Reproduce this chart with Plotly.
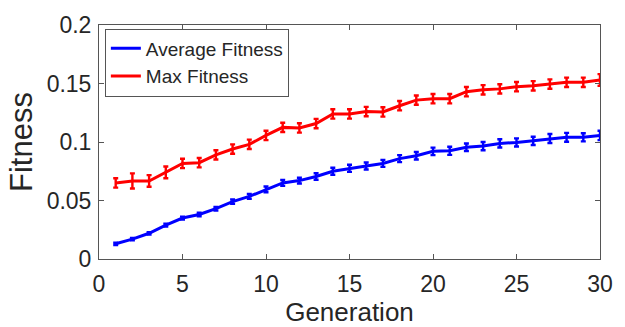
import plotly.graph_objects as go

generation = list(range(1, 31))
avg_fitness = [0.013, 0.017, 0.022, 0.029, 0.035, 0.038, 0.043, 0.049, 0.0535, 0.0595,
               0.065, 0.067, 0.0705, 0.075, 0.0775, 0.0795, 0.0817, 0.0858, 0.0883, 0.092,
               0.0925, 0.0955, 0.0965, 0.0988, 0.0996, 0.101, 0.103, 0.104, 0.104, 0.1056]
avg_err = [0.001, 0.001, 0.001, 0.0012, 0.0012, 0.0015, 0.0015, 0.0018, 0.002, 0.0025,
           0.0025, 0.0025, 0.0028, 0.003, 0.003, 0.003, 0.003, 0.003, 0.0032, 0.0032,
           0.0035, 0.0032, 0.0035, 0.0035, 0.0035, 0.0035, 0.0038, 0.0038, 0.0035, 0.004]
max_fitness = [0.065, 0.0667, 0.0667, 0.074, 0.0817, 0.0823, 0.089, 0.094, 0.098, 0.1056,
               0.1125, 0.112, 0.1158, 0.124, 0.124, 0.126, 0.1257, 0.131, 0.1358, 0.137,
               0.137, 0.143, 0.1446, 0.1454, 0.1473, 0.148, 0.1495, 0.151, 0.151, 0.153]
max_err = [0.004, 0.0065, 0.005, 0.005, 0.004, 0.004, 0.004, 0.004, 0.004, 0.004,
           0.004, 0.004, 0.004, 0.004, 0.004, 0.004, 0.004, 0.004, 0.004, 0.004,
           0.004, 0.004, 0.004, 0.004, 0.004, 0.004, 0.004, 0.004, 0.004, 0.005]

font = "Liberation Sans, Arial, Helvetica, sans-serif"
axcol = "#555555"
txtcol = "#262626"

fig = go.Figure()
fig.add_trace(go.Scatter(
    x=generation, y=avg_fitness, name="Average Fitness", mode="lines",
    line=dict(color="#0000FF", width=3),
    error_y=dict(type="data", array=avg_err, color="#0000FF", thickness=2.4, width=2.5),
))
fig.add_trace(go.Scatter(
    x=generation, y=max_fitness, name="Max Fitness", mode="lines",
    line=dict(color="#FF0000", width=3),
    error_y=dict(type="data", array=max_err, color="#FF0000", thickness=2.4, width=2.5),
))

fig.update_layout(
    width=625, height=327,
    margin=dict(l=99, r=12, t=17, b=67),
    paper_bgcolor="white", plot_bgcolor="white",
    font=dict(family=font, color=txtcol),
    showlegend=True,
    legend=dict(
        x=0.0117, y=0.985, xanchor="left", yanchor="top",
        bgcolor="white", bordercolor=axcol, borderwidth=1,
        font=dict(size=19, family=font, color=txtcol),
        itemwidth=30, tracegroupgap=0,
    ),
)
fig.update_xaxes(
    range=[0, 30], tickmode="array", tickvals=[0, 5, 10, 15, 20, 25, 30],
    ticks="inside", ticklen=5, tickcolor=axcol, showline=True, linecolor=axcol,
    linewidth=1, mirror="ticks", showgrid=False, zeroline=False,
    tickfont=dict(size=23, family=font, color=txtcol), ticklabelstandoff=4,
    title=dict(text="Generation", font=dict(size=26, family=font, color=txtcol), standoff=0),
)
fig.update_yaxes(
    range=[0, 0.2], tickmode="array", tickvals=[0, 0.05, 0.1, 0.15, 0.2],
    ticktext=["0", "0.05", "0.1", "0.15", "0.2"],
    ticks="inside", ticklen=5, tickcolor=axcol, showline=True, linecolor=axcol,
    linewidth=1, mirror="ticks", showgrid=False, zeroline=False,
    tickfont=dict(size=23, family=font, color=txtcol), ticklabelstandoff=2,
    title=dict(text="Fitness", font=dict(size=31, family=font, color=txtcol), standoff=4),
)

fig.write_html("out.html")
